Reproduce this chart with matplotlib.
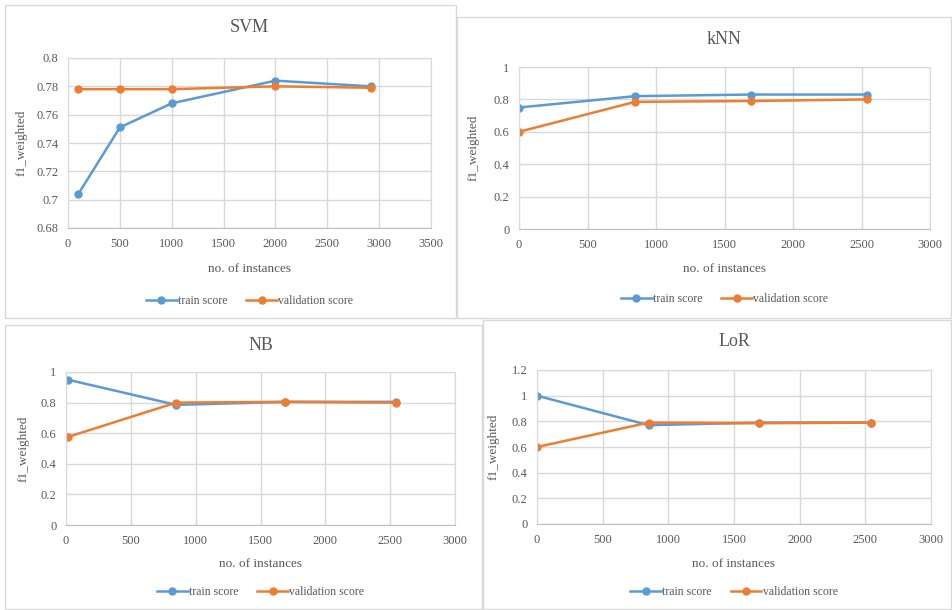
import matplotlib
matplotlib.use('agg')
import matplotlib.pyplot as plt
from matplotlib.patches import Rectangle

# --- data ---
svm_x = [100, 500, 1000, 2000, 2920]
svm_train = [0.704, 0.751, 0.768, 0.784, 0.780]
svm_val = [0.778, 0.778, 0.778, 0.780, 0.779]

knn_x = [0, 848, 1695, 2542]
knn_train = [0.75, 0.82, 0.83, 0.83]
knn_val = [0.60, 0.785, 0.79, 0.80]

nb_x = [13, 850, 1692, 2542]
nb_train = [0.95, 0.785, 0.805, 0.805]
nb_val = [0.575, 0.80, 0.805, 0.80]

lor_x = [0, 850, 1693, 2542]
lor_train = [1.0, 0.77, 0.79, 0.79]
lor_val = [0.60, 0.79, 0.785, 0.79]

W, H = 952, 610
BLUE = '#5B9BD5'
ORANGE = '#ED7D31'
GRAY = '#595959'
plt.rcParams['font.family'] = ['Liberation Serif', 'DejaVu Serif']

fig = plt.figure(figsize=(W / 100, H / 100), dpi=100)
fig.patch.set_facecolor('white')


def frame(x0, y0, x1, y1):
    fig.add_artist(Rectangle((x0 / W, 1 - y1 / H), (x1 - x0) / W, (y1 - y0) / H,
                             transform=fig.transFigure, fill=False,
                             edgecolor='#D9D9D9', linewidth=1))


def panel(title, x, train, val, box, xlim, xstep, ylim, ystep, yfmt,
          title_y, ylab_x, xlab_y, leg_y):
    x0, y0, x1, y1 = box
    ax = fig.add_axes([x0 / W, 1 - y1 / H, (x1 - x0) / W, (y1 - y0) / H])
    ax.plot(x, train, color=BLUE, marker='o', markersize=5, linewidth=1.8, label='train score')
    ax.plot(x, val, color=ORANGE, marker='o', markersize=5, linewidth=1.8, label='validation score')
    ax.set_xlim(*xlim)
    ax.set_ylim(*ylim)
    n = int(round((xlim[1] - xlim[0]) / xstep))
    ax.set_xticks([xlim[0] + i * xstep for i in range(n + 1)])
    m = int(round((ylim[1] - ylim[0]) / ystep))
    yt = [ylim[0] + i * ystep for i in range(m + 1)]
    ax.set_yticks(yt)
    ax.set_yticklabels([yfmt(v) for v in yt])
    ax.grid(True, color='#D9D9D9', linewidth=1)
    ax.set_axisbelow(True)
    for s in ax.spines.values():
        s.set_color('#D9D9D9')
    ax.spines['bottom'].set_color('#BFBFBF')
    ax.tick_params(length=0, labelsize=9, labelcolor=GRAY, pad=7)
    ax.set_xlabel('no. of instances', fontsize=9.5, color=GRAY)
    ax.xaxis.set_label_coords(0.5, -(xlab_y - y1) / (y1 - y0))
    ax.set_ylabel('f1_weighted', fontsize=9.5, color=GRAY)
    ax.yaxis.set_label_coords(-(x0 - ylab_x) / (x1 - x0), 0.5)
    ax.set_title(title, fontsize=13, color=GRAY, y=1 + (y0 - title_y) / (y1 - y0),
                 va='center', pad=0)
    ax.legend(loc='center', ncol=2, frameon=False, fontsize=8.5, labelcolor=GRAY,
              bbox_to_anchor=(0.5, -(leg_y - y1) / (y1 - y0)), handlelength=2.6,
              handletextpad=0.1, columnspacing=1.6)
    return ax


def fmt_svm(v):
    return ('%.2f' % v).rstrip('0').rstrip('.')


def fmt_one(v):
    return ('%.1f' % v).rstrip('0').rstrip('.')


frame(5, 5, 456, 318)
frame(457, 17, 951, 318)
frame(5, 325, 482, 609)
frame(483, 320, 951, 609)

panel('SVM', svm_x, svm_train, svm_val, (68, 58, 431, 228), (0, 3500), 500,
      (0.68, 0.8), 0.02, fmt_svm, 28, 28, 263, 301)
panel('kNN', knn_x, knn_train, knn_val, (519, 67, 930, 229), (0, 3000), 500,
      (0, 1), 0.2, fmt_one, 39, 480, 263, 299)
panel('NB', nb_x, nb_train, nb_val, (66, 372, 455, 525), (0, 3000), 500,
      (0, 1), 0.2, fmt_one, 345, 30, 558, 592)
panel('LoR', lor_x, lor_train, lor_val, (537, 370, 931, 524), (0, 3000), 500,
      (0, 1.2), 0.2, fmt_one, 342, 500, 558, 592)

plt.savefig('out.png', dpi=100)
plt.close()
